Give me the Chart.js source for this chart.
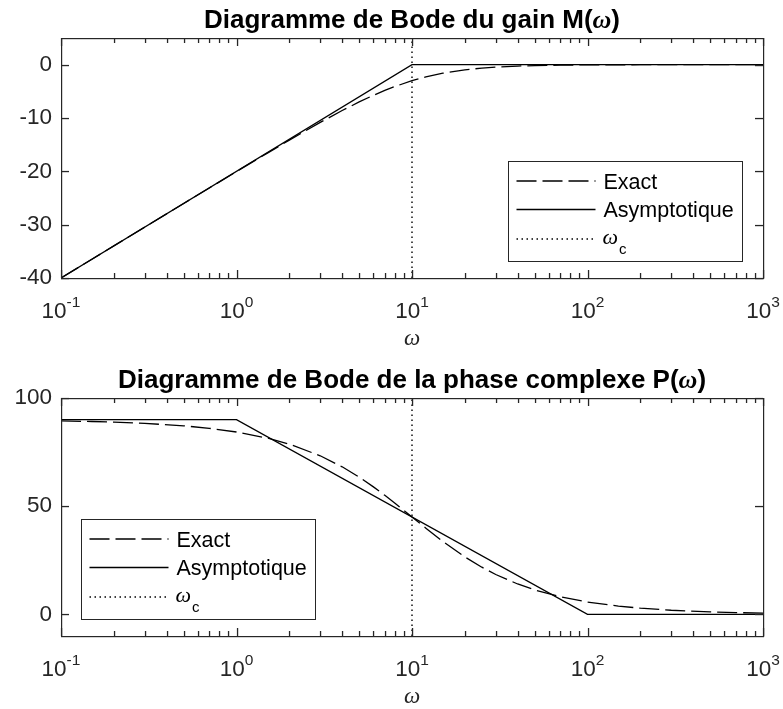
<!DOCTYPE html>
<html>
<head>
<meta charset="utf-8">
<script src="https://cdn.jsdelivr.net/npm/chart.js@4.4.0/dist/chart.umd.min.js"></script>
<style>
html, body { margin: 0; padding: 0; background: #fff; }
#wrap { position: relative; width: 783px; height: 709px; }
canvas { position: absolute; left: 0; }
</style>
</head>
<body>
<div id="wrap">
  <canvas id="graficoGain" width="783" height="356" style="top:0px"></canvas>
  <canvas id="graficoPhase" width="783" height="353" style="top:356px"></canvas>
</div>
<script>
// données
var omegaExact = [0.1, 0.15, 0.2, 0.3, 0.5, 0.7, 1, 1.5, 2, 3, 4, 5, 6, 7, 8, 10, 12, 15, 20, 25, 30, 40, 50, 70, 100, 150, 200, 300, 500, 700, 1000];
var gainExact = [-40.0, -36.48, -33.98, -30.46, -26.03, -23.12, -20.04, -16.58, -14.15, -10.83, -8.60, -6.99, -5.77, -4.83, -4.09, -3.01, -2.29, -1.60, -0.97, -0.64, -0.46, -0.26, -0.17, -0.09, -0.04, -0.02, -0.01, 0, 0, 0, 0];
var phaseExact = [89.43, 89.14, 88.85, 88.28, 87.14, 86.00, 84.29, 81.47, 78.69, 73.30, 68.20, 63.43, 59.04, 55.01, 51.34, 45.00, 39.81, 33.69, 26.57, 21.80, 18.43, 14.04, 11.31, 8.13, 5.71, 3.81, 2.86, 1.91, 1.15, 0.82, 0.57];

var omegaAsymGain = [0.1, 10, 1000];
var gainAsym = [-40, 0, 0];
var omegaAsymPhase = [0.1, 1, 100, 1000];
var phaseAsym = [90, 90, 0, 0];

var omegaC = 10;
var yLimGain = [-40, 5];
var yLimPhase = [-10, 100];

var xTickValues = [0.1, 1, 10, 100, 1000];
var xTickExponents = ['-1', '0', '1', '2', '3'];
var xMinorFactors = [2, 3, 4, 5, 6, 7, 8, 9];
var yTicksGain = [-40, -30, -20, -10, 0];
var yTicksPhase = [0, 50, 100];
var legendLabels = ['Exact', 'Asymptotique', 'ωc'];

var fontSans = '"Liberation Sans", Arial, Helvetica, sans-serif';
var fontGreek = '"Liberation Serif", "DejaVu Serif", serif';
var axisColor = '#262626';

function pts(xs, ys) {
    return xs.map(function (x, i) { return { x: x, y: ys[i] }; });
}

// dessine une suite de morceaux de texte (polices différentes) centrée en cx
function drawParts(ctx, parts, cx, y) {
    var total = 0;
    parts.forEach(function (p) { ctx.font = p.font; p.w = ctx.measureText(p.text).width; total += p.w; });
    var x = cx - total / 2;
    parts.forEach(function (p) {
        ctx.font = p.font;
        ctx.fillText(p.text, x, y + (p.dy || 0));
        x += p.w;
    });
}

var matlabAxes = {
    id: 'matlabAxes',
    afterDatasetsDraw: function (chart, args, opts) {
        var ctx = chart.ctx, a = chart.chartArea;
        var xs = chart.scales.x, ys = chart.scales.y;
        var L = Math.round(a.left), R = Math.round(a.right), T = Math.round(a.top), B = Math.round(a.bottom);
        ctx.save();
        ctx.fillStyle = axisColor;
        // graduations vers l'intérieur, sur les quatre côtés
        xTickValues.forEach(function (v, i) {
            var px = Math.round(xs.getPixelForValue(v));
            ctx.fillRect(px - 0.1, B - 8, 1.3, 8);
            ctx.fillRect(px - 0.1, T, 1.3, 8);
            if (i === xTickValues.length - 1) return;
            xMinorFactors.forEach(function (m) {
                var qx = Math.round(xs.getPixelForValue(v * m));
                ctx.fillRect(qx - 0.1, B - 5, 1.3, 5);
                ctx.fillRect(qx - 0.1, T, 1.3, 5);
            });
        });
        ys.ticks.forEach(function (t) {
            var py = Math.round(ys.getPixelForValue(t.value));
            ctx.fillRect(L, py - 0.1, 8, 1.3);
            ctx.fillRect(R - 8, py - 0.1, 8, 1.3);
        });
        // cadre
        ctx.fillRect(L, T, R - L + 1, 1.2);
        ctx.fillRect(L, B, R - L + 1, 1.2);
        ctx.fillRect(L, T, 1.2, B - T + 1);
        ctx.fillRect(R, T, 1.2, B - T + 1);

        // légende
        var w = 234, h = 100;
        var bx = opts.corner === 'br' ? a.right - opts.dx - w : a.left + opts.dx;
        var by = opts.corner === 'br' ? a.bottom - opts.dy - h : a.top + opts.dy;
        bx = Math.round(bx) + 0.5; by = Math.round(by) + 0.5;
        ctx.fillStyle = '#fff';
        ctx.fillRect(bx, by, w, h);
        ctx.strokeStyle = axisColor;
        ctx.lineWidth = 1;
        ctx.setLineDash([]);
        ctx.strokeRect(bx, by, w, h);
        var rows = [19.5, 48, 77.5];
        chart.data.datasets.forEach(function (ds, i) {
            var ry = by + rows[i];
            ctx.save();
            ctx.strokeStyle = ds.borderColor;
            ctx.lineWidth = ds.borderWidth;
            ctx.setLineDash(ds.borderDash || []);
            ctx.beginPath();
            ctx.moveTo(bx + 8, ry); ctx.lineTo(bx + 87, ry);
            ctx.stroke();
            ctx.restore();
            ctx.fillStyle = '#000';
            ctx.textBaseline = 'alphabetic';
            ctx.textAlign = 'left';
            if (ds.label === 'ωc') {
                ctx.font = 'italic 22px ' + fontGreek;
                ctx.fillText('ω', bx + 94, ry + 5);
                var ww = ctx.measureText('ω').width;
                ctx.font = '15px ' + fontSans;
                ctx.fillText('c', bx + 95 + ww, ry + 15);
            } else {
                ctx.font = '21.5px ' + fontSans;
                ctx.fillText(ds.label, bx + 95, ry + 7.5);
            }
        });
        ctx.restore();
    },
    afterDraw: function (chart, args, opts) {
        var ctx = chart.ctx, a = chart.chartArea, xs = chart.scales.x;
        var cx = (a.left + a.right) / 2;
        ctx.save();
        ctx.fillStyle = '#000';
        ctx.textAlign = 'left';
        ctx.textBaseline = 'alphabetic';
        // titre
        drawParts(ctx, [
            { text: opts.title, font: 'bold 26px ' + fontSans },
            { text: 'ω', font: 'italic bold 26px ' + fontGreek },
            { text: ')', font: 'bold 26px ' + fontSans }
        ], cx, a.top - 10);
        // étiquettes de l'axe x : 10^n
        ctx.fillStyle = axisColor;
        xTickValues.forEach(function (v, i) {
            var px = xs.getPixelForValue(v);
            drawParts(ctx, [
                { text: '10', font: '22.5px ' + fontSans },
                { text: xTickExponents[i], font: '15.5px ' + fontSans, dy: -11 }
            ], px, a.bottom + 40);
        });
        // nom de l'axe x
        drawParts(ctx, [{ text: 'ω', font: 'italic 23px ' + fontGreek }], cx, a.bottom + 67);
        ctx.restore();
    }
};

function makeOptions(yLim, yTicks, top, bottom, height, legendPos, title) {
    return {
        responsive: false,
        animation: false,
        devicePixelRatio: 1,
        layout: { padding: { left: 0, right: 20, top: top, bottom: 0 } },
        elements: { point: { radius: 0 }, line: { tension: 0 } },
        scales: {
            x: {
                type: 'logarithmic',
                min: 0.1,
                max: 1000,
                ticks: { display: false },
                grid: { display: false, drawTicks: false },
                border: { display: false },
                afterFit: function (s) { s.height = height - bottom; }
            },
            y: {
                min: yLim[0],
                max: yLim[1],
                afterBuildTicks: function (s) { s.ticks = yTicks.map(function (v) { return { value: v }; }); },
                ticks: {
                    color: axisColor,
                    padding: 9,
                    font: { family: fontSans, size: 22.5 }
                },
                grid: { display: false, drawTicks: false },
                border: { display: false },
                afterFit: function (s) { s.width = 61; }
            }
        },
        plugins: {
            legend: { display: false },
            tooltip: { enabled: false },
            matlabAxes: Object.assign({ title: title }, legendPos)
        }
    };
}

function makeDatasets(exactX, exactY, asymX, asymY, yLim) {
    return [{
        label: legendLabels[0],
        data: pts(exactX, exactY),
        borderColor: '#000',
        borderWidth: 1.3,
        borderDash: [20, 6],
        fill: false
    }, {
        label: legendLabels[1],
        data: pts(asymX, asymY),
        borderColor: '#000',
        borderWidth: 1.3,
        fill: false
    }, {
        label: legendLabels[2],
        data: pts([omegaC, omegaC], yLim),
        borderColor: '#000',
        borderWidth: 1.4,
        borderDash: [1.5, 3.5],
        fill: false
    }];
}

var ctxGain = document.getElementById('graficoGain').getContext('2d');
var ctxPhase = document.getElementById('graficoPhase').getContext('2d');

var gainChart = new Chart(ctxGain, {
    type: 'line',
    data: { datasets: makeDatasets(omegaExact, gainExact, omegaAsymGain, gainAsym, yLimGain) },
    options: makeOptions(yLimGain, yTicksGain, 38, 278, 356, { corner: 'br', dx: 21, dy: 17 }, 'Diagramme de Bode du gain M('),
    plugins: [matlabAxes]
});

var phaseChart = new Chart(ctxPhase, {
    type: 'line',
    data: { datasets: makeDatasets(omegaExact, phaseExact, omegaAsymPhase, phaseAsym, yLimPhase) },
    options: makeOptions(yLimPhase, yTicksPhase, 42, 280, 353, { corner: 'tl', dx: 20, dy: 121 }, 'Diagramme de Bode de la phase complexe P('),
    plugins: [matlabAxes]
});
</script>
</body>
</html>
